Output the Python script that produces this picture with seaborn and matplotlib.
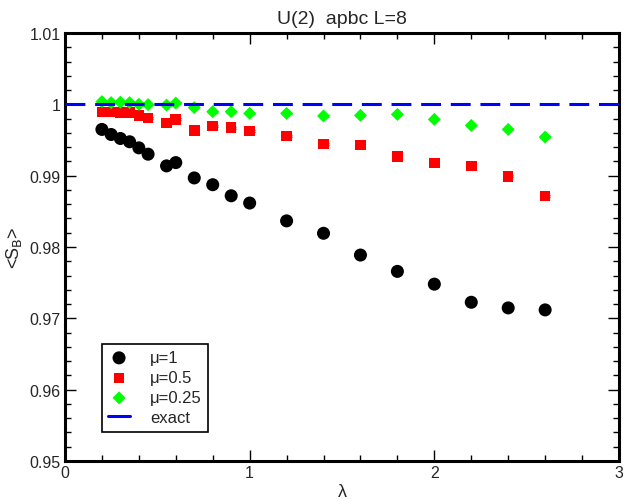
import numpy as np
import pandas as pd
import matplotlib
matplotlib.use("Agg")
import matplotlib.pyplot as plt
import seaborn as sns
from matplotlib.ticker import MultipleLocator

lam = [0.2, 0.25, 0.3, 0.35, 0.4, 0.45, 0.55, 0.6, 0.7, 0.8, 0.9, 1.0,
       1.2, 1.4, 1.6, 1.8, 2.0, 2.2, 2.4, 2.6]
s_mu1 = [0.99648, 0.99577, 0.99521, 0.99475, 0.99390, 0.99301, 0.99137, 0.99183,
         0.98968, 0.98873, 0.98718, 0.98616, 0.98366, 0.98192, 0.97887, 0.97658,
         0.97479, 0.97225, 0.97146, 0.97118]
s_mu05 = [0.99893, 0.99893, 0.99887, 0.99883, 0.99845, 0.99808, 0.99738, 0.99789,
          0.99634, 0.99696, 0.99672, 0.99625, 0.99555, 0.99446, 0.99428, 0.99268,
          0.99179, 0.99137, 0.98992, 0.98714]
s_mu025 = [1.00038, 1.00024, 1.00030, 1.00024, 1.00000, 0.99996, 0.99989, 1.00017,
           0.99954, 0.99897, 0.99897, 0.99873, 0.99873, 0.99837, 0.99845, 0.99859,
           0.99789, 0.99704, 0.99648, 0.99541]
err_mu1 = [0.00008] * len(lam)
err_mu05 = [0.00015] * len(lam)
err_mu025 = [0.00012] * len(lam)
exact_x = [0.0, 3.0]
exact_y = [1.0, 1.0]
labels = ["\u03bc=1", "\u03bc=0.5", "\u03bc=0.25", "exact"]

sns.set_style("ticks")
plt.rcParams['font.family'] = ['Liberation Sans', 'DejaVu Sans']

fig = plt.figure(figsize=(6.23, 5.02), dpi=100)
ax = fig.add_axes([0.1043, 0.0797, 0.8893, 0.8526])

series = [
    (s_mu1, err_mu1, labels[0], "black", "o", 88),
    (s_mu05, err_mu05, labels[1], "#ff0000", "s", 58),
    (s_mu025, err_mu025, labels[2], "#00ff00", "D", 44),
]
for vals, errs, lab, col, mk, sz in series:
    df = pd.DataFrame({"lam": lam, "S": vals, "err": errs})
    ax.errorbar(df["lam"], df["S"], yerr=df["err"], fmt="none", ecolor=col,
                elinewidth=1, capsize=3.5, capthick=1, zorder=2)
    sns.scatterplot(data=df, x="lam", y="S", ax=ax, color=col, marker=mk, s=sz,
                    edgecolor="none", label=lab, zorder=3)

dfe = pd.DataFrame({"x": exact_x, "y": exact_y})
sns.lineplot(data=dfe, x="x", y="y", ax=ax, color="#0000ff", linewidth=2.2,
             dashes=False, label=labels[3], zorder=4)
ax.lines[-1].set_dashes((6.5, 3.2))

ax.set_xlim(0, 3)
ax.set_ylim(0.95, 1.01)
ax.xaxis.set_major_locator(MultipleLocator(1))
ax.xaxis.set_minor_locator(MultipleLocator(0.2))
ax.yaxis.set_major_locator(MultipleLocator(0.01))
ax.yaxis.set_minor_locator(MultipleLocator(0.002))
ax.xaxis.set_major_formatter(matplotlib.ticker.FuncFormatter(lambda v, p: f"{v:g}"))
ax.yaxis.set_major_formatter(matplotlib.ticker.FuncFormatter(lambda v, p: f"{round(v, 3):g}"))

ax.tick_params(which="both", direction="in", top=True, right=True, labelsize=11.5,
               color="black", pad=3)
ax.tick_params(which="major", length=8, width=1)
ax.tick_params(which="minor", length=4.5, width=1)
for sp in ax.spines.values():
    sp.set_linewidth(2.2)
    sp.set_color("black")

ax.set_xlabel("\u03bb", fontsize=13, labelpad=2)
ax.set_ylabel("<S$_\\mathrm{B}$>", fontsize=13, labelpad=4)
ax.set_title("U(2)  apbc L=8", fontsize=14, pad=7)

handles, labs = ax.get_legend_handles_labels()
leg = ax.legend(handles, labs, loc="lower left", bbox_to_anchor=(0.066, 0.068),
                fontsize=12, frameon=True, fancybox=False, handlelength=1.3,
                handletextpad=1.2, borderpad=0.4, labelspacing=0.3,
                borderaxespad=0)
leg.get_frame().set_edgecolor("black")
leg.get_frame().set_linewidth(1.2)
leg.get_frame().set_facecolor("white")
leg.get_frame().set_alpha(1)
for h in leg.legend_handles:
    if isinstance(h, matplotlib.lines.Line2D):
        h.set_linestyle("-")

fig.savefig("out.png", dpi=100)
